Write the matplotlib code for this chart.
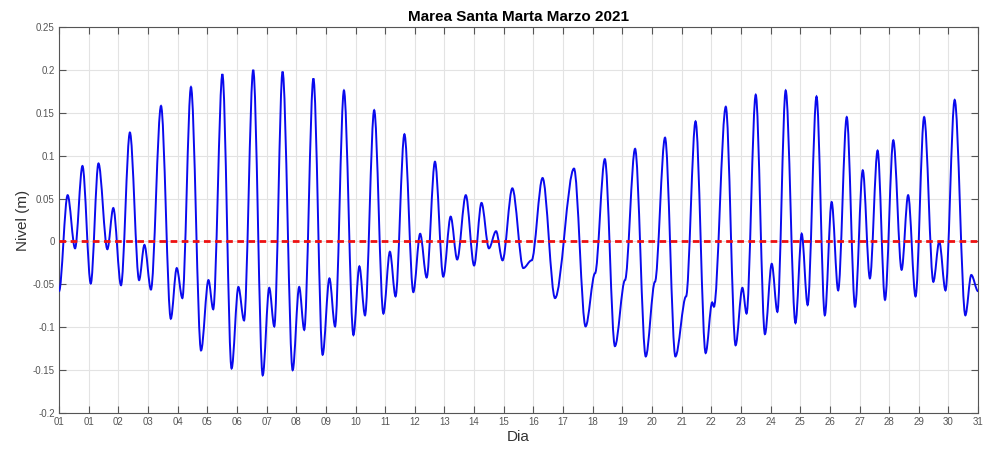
import matplotlib
matplotlib.use("Agg")
import matplotlib.pyplot as plt
from matplotlib.path import Path
from matplotlib.patches import PathPatch

plt.rcParams['font.family'] = ['Liberation Sans', 'DejaVu Sans']

# turning points of the tide curve (day of March, level in m)
dias = [0.00, 0.29, 0.54, 0.79, 1.07, 1.33, 1.63, 1.83, 2.09, 2.39,
        2.70, 2.88, 3.10, 3.44, 3.77, 3.97, 4.16, 4.45, 4.79, 5.04,
        5.20, 5.51, 5.82, 6.05, 6.24, 6.55, 6.87, 7.09, 7.26, 7.54,
        7.88, 8.10, 8.27, 8.58, 8.89, 9.12, 9.31, 9.61, 9.93, 10.13,
        10.32, 10.63, 10.94, 11.16, 11.35, 11.65, 11.95, 12.18, 12.40, 12.68,
        12.96, 13.21, 13.43, 13.72, 14.00, 14.25, 14.50, 14.74, 14.96, 15.29,
        15.66, 15.94, 16.31, 16.73, 17.37, 17.76, 18.08, 18.41, 18.75, 19.09,
        19.43, 19.79, 20.10, 20.44, 20.79, 21.15, 21.47, 21.81, 22.03, 22.09,
        22.49, 22.82, 23.05, 23.19, 23.50, 23.81, 24.04, 24.23, 24.51, 24.84,
        25.05, 25.25, 25.55, 25.83, 26.06, 26.28, 26.57, 26.85, 27.11, 27.35,
        27.61, 27.86, 28.14, 28.42, 28.64, 28.89, 29.18, 29.49, 29.69, 29.90,
        30.21, 30.57, 30.77, 31.00]
nivel = [-0.058, 0.054, -0.008, 0.088, -0.049, 0.091, -0.009, 0.039, -0.051, 0.127,
         -0.045, -0.004, -0.056, 0.158, -0.090, -0.031, -0.066, 0.180, -0.127, -0.045,
         -0.079, 0.195, -0.148, -0.053, -0.092, 0.200, -0.156, -0.054, -0.099, 0.198,
         -0.150, -0.053, -0.103, 0.190, -0.132, -0.043, -0.099, 0.176, -0.109, -0.029,
         -0.086, 0.153, -0.084, -0.012, -0.064, 0.125, -0.059, 0.009, -0.042, 0.093,
         -0.041, 0.029, -0.021, 0.054, -0.028, 0.045, -0.008, 0.012, -0.022, 0.062,
         -0.031, -0.022, 0.074, -0.066, 0.085, -0.099, -0.037, 0.096, -0.122, -0.045,
         0.108, -0.134, -0.047, 0.121, -0.134, -0.064, 0.140, -0.130, -0.071, -0.076,
         0.157, -0.121, -0.054, -0.084, 0.171, -0.108, -0.026, -0.082, 0.176, -0.095,
         0.009, -0.074, 0.169, -0.086, 0.046, -0.057, 0.145, -0.076, 0.083, -0.043,
         0.106, -0.068, 0.118, -0.033, 0.054, -0.064, 0.145, -0.047, 0.000, -0.057,
         0.165, -0.086, -0.039, -0.058]
assert len(dias) == len(nivel)

xticks = list(range(0, 32))
xlabels = ['01'] + ['%02d' % d for d in range(1, 32)]
yticks = [-0.2, -0.15, -0.1, -0.05, 0, 0.05, 0.1, 0.15, 0.2, 0.25]
ylabels = ['-0.2', '-0.15', '-0.1', '-0.05', '0', '0.05', '0.1', '0.15', '0.2', '0.25']

fig = plt.figure(figsize=(9.84, 4.5), dpi=100)
ax = fig.add_axes([0.060, 0.082, 0.934, 0.858])

# smooth curve through the turning points (cubic segments, flat at each turn)
verts = [(dias[0], nivel[0])]
codes = [Path.MOVETO]
for i in range(1, len(dias)):
    t0, v0 = dias[i - 1], nivel[i - 1]
    t1, v1 = dias[i], nivel[i]
    dt = t1 - t0
    verts += [(t0 + dt / 3, v0), (t1 - dt / 3, v1), (t1, v1)]
    codes += [Path.CURVE4] * 3
ax.add_patch(PathPatch(Path(verts, codes), facecolor='none', edgecolor='#0a0aee',
                       lw=1.4, transform=ax.transData, zorder=3))

ax.plot([0, 31], [0, 0], color='#ee1111', ls='--', lw=2, dashes=(2.4, 1.6), zorder=4)

ax.set_xlim(0, 31)
ax.set_ylim(-0.2, 0.25)
ax.set_xticks(xticks)
ax.set_xticklabels(xlabels)
ax.set_yticks(yticks)
ax.set_yticklabels(ylabels)
ax.tick_params(direction='in', length=5, width=0.8, top=True, right=True,
               labelsize=7, colors='#555555', pad=3)
ax.grid(True, color='#e3e3e3', lw=0.8)
ax.set_axisbelow(True)
for s in ax.spines.values():
    s.set_color('#555555')
    s.set_linewidth(0.8)

ax.set_title('Marea Santa Marta Marzo 2021', fontsize=11, fontweight='bold', pad=4)
ax.set_xlabel('Dia', fontsize=11, color='#333333', labelpad=2)
ax.set_ylabel('Nivel (m)', fontsize=11, color='#333333', labelpad=2)

fig.savefig('out.png', dpi=100)
